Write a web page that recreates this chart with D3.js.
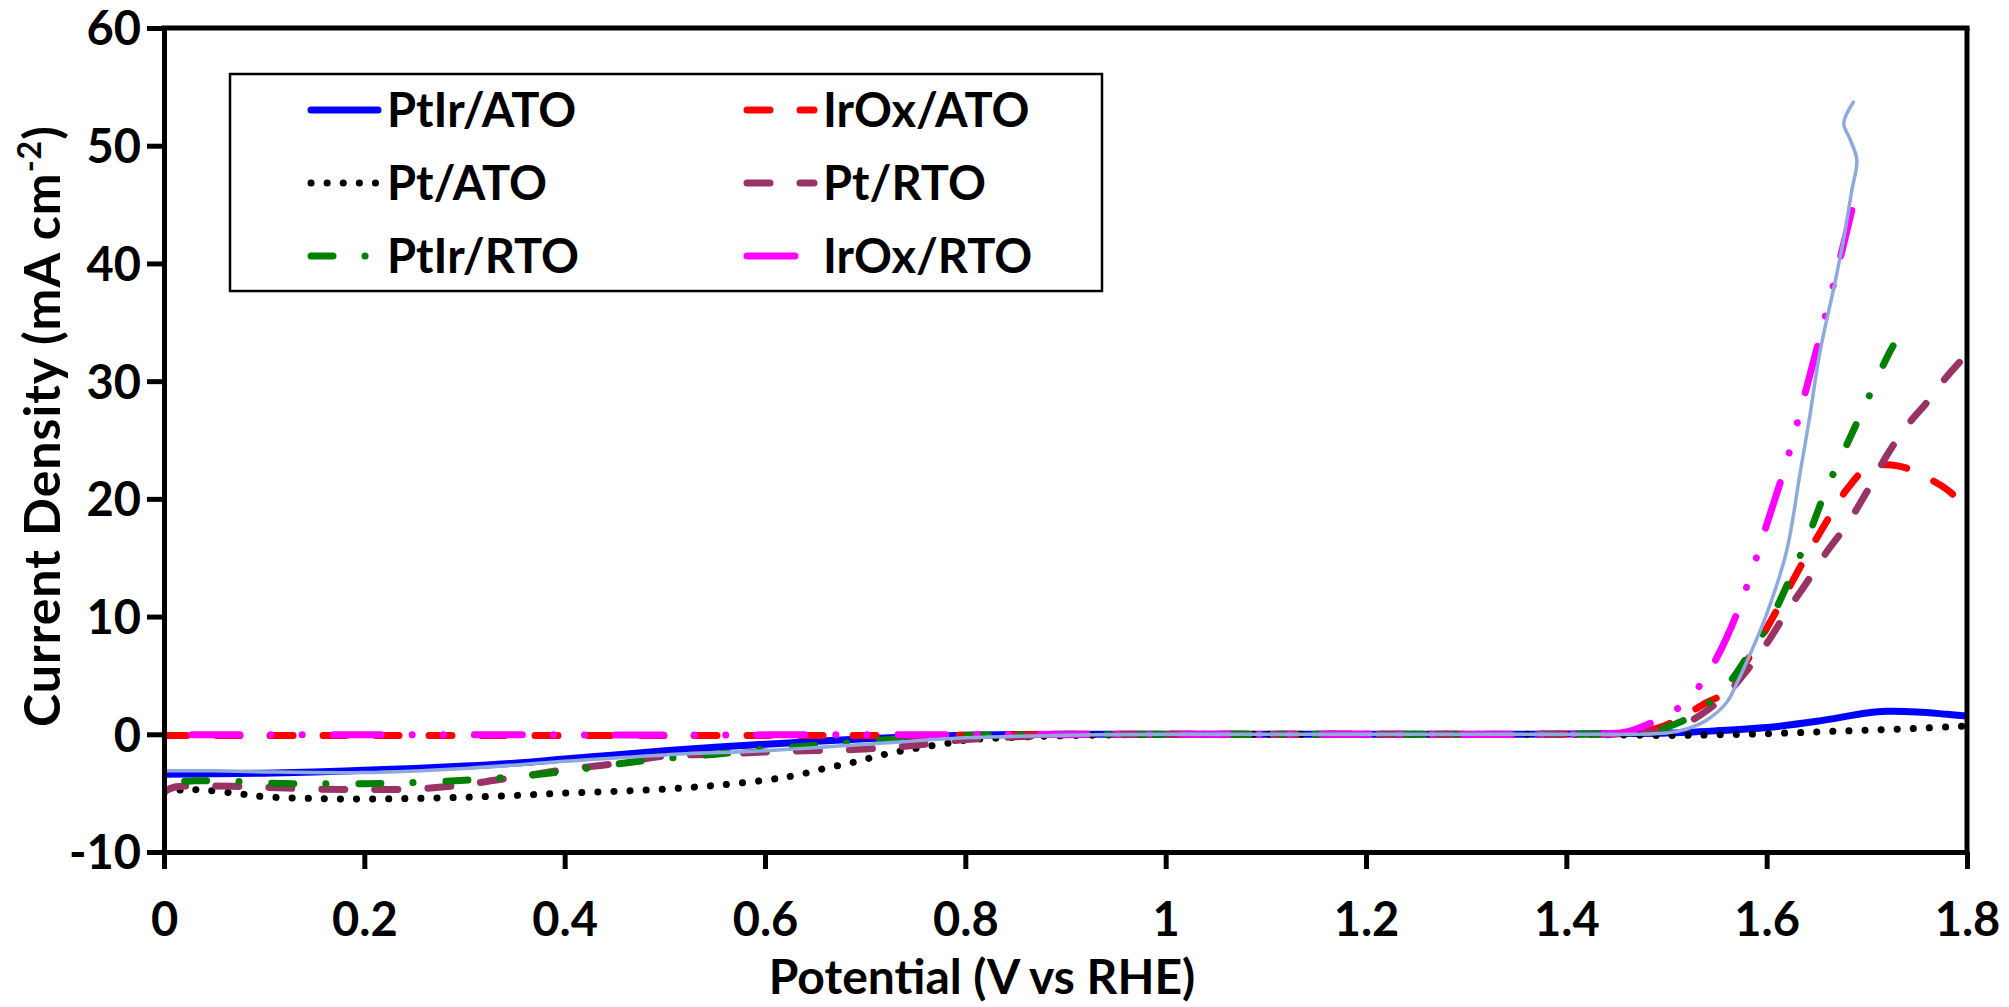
<!DOCTYPE html>
<html>
<head>
<meta charset="utf-8">
<script src="https://cdn.jsdelivr.net/npm/d3@7"></script>
<style>
  html, body { margin: 0; padding: 0; background: #fff; }
  svg { display: block; }
  text { font-family: Lato, "Open Sans", sans-serif; font-weight: 700; fill: #000; }
</style>
</head>
<body>
<svg id="chart" width="2009" height="1007"></svg>
<script>
// Linear sweep voltammetry: current density vs potential for the catalyst/support pairs

const xTicks = [0, 0.2, 0.4, 0.6, 0.8, 1.0, 1.2, 1.4, 1.6, 1.8];
const xTickLabels = ["0", "0.2", "0.4", "0.6", "0.8", "1", "1.2", "1.4", "1.6", "1.8"];
const yTicks = [-10, 0, 10, 20, 30, 40, 50, 60];
const yTickLabels = ["-10", "0", "10", "20", "30", "40", "50", "60"];

// PtIr/ATO
const ptirAtoV = [0, 0.05, 0.1, 0.15, 0.2, 0.25, 0.3, 0.35, 0.4, 0.45, 0.5, 0.55, 0.6, 0.65, 0.7, 0.75, 0.8, 0.85, 0.9, 1.0, 1.1, 1.2, 1.3, 1.4, 1.45, 1.5, 1.55, 1.6, 1.65, 1.7, 1.72, 1.75, 1.78, 1.8];
const ptirAtoJ = [-3.4, -3.35, -3.3, -3.2, -3.05, -2.9, -2.7, -2.45, -2.1, -1.75, -1.4, -1.1, -0.85, -0.6, -0.37, -0.2, -0.08, -0.02, 0, 0, 0, 0, 0, 0.02, 0.05, 0.1, 0.3, 0.57, 1.1, 1.8, 1.95, 1.9, 1.7, 1.55];

// Pt/ATO
const ptAtoV = [0, 0.02, 0.04, 0.07, 0.1, 0.15, 0.2, 0.25, 0.3, 0.35, 0.4, 0.45, 0.5, 0.55, 0.6, 0.63, 0.66, 0.69, 0.72, 0.75, 0.78, 0.8, 0.83, 0.86, 0.9, 0.95, 1.0, 1.2, 1.4, 1.5, 1.55, 1.6, 1.65, 1.7, 1.75, 1.8];
const ptAtoJ = [-5.0, -4.7, -4.75, -5.0, -5.3, -5.45, -5.5, -5.45, -5.35, -5.2, -5.0, -4.85, -4.65, -4.35, -3.9, -3.5, -2.9, -2.35, -1.7, -1.2, -0.8, -0.5, -0.33, -0.22, -0.12, -0.05, 0, 0, 0, -0.1, -0.05, 0.05, 0.2, 0.35, 0.5, 0.7];

// PtIr/RTO
const ptirRtoV = [0, 0.01, 0.03, 0.07, 0.1, 0.15, 0.2, 0.25, 0.3, 0.35, 0.4, 0.45, 0.5, 0.55, 0.6, 0.65, 0.7, 0.75, 0.8, 0.85, 0.9, 1.0, 1.2, 1.4, 1.45, 1.48, 1.5, 1.52, 1.54, 1.56, 1.58, 1.6, 1.62, 1.64, 1.66, 1.68, 1.7, 1.72, 1.73, 1.741];
const ptirRtoJ = [-4.5, -4.1, -3.95, -4.0, -4.15, -4.2, -4.2, -4.1, -3.9, -3.6, -3.15, -2.55, -2.05, -1.7, -1.25, -0.95, -0.6, -0.3, -0.12, -0.03, 0, 0, 0, 0, 0.05, 0.2, 0.6, 1.3, 2.5, 4.1, 6.5, 9.1, 12.6, 16.5, 20.9, 24.6, 28.3, 32.0, 33.6, 35.4];

// IrOx/ATO
const irAtoV = [0, 0.2, 0.4, 0.6, 0.8, 0.9, 1.2, 1.4, 1.45, 1.48, 1.5, 1.52, 1.54, 1.56, 1.58, 1.6, 1.62, 1.64, 1.66, 1.68, 1.7, 1.72, 1.74, 1.76, 1.78, 1.8];
const irAtoJ = [-0.1, -0.1, -0.1, -0.1, -0.08, 0, 0, 0, 0.05, 0.3, 0.8, 1.7, 2.7, 3.6, 6.2, 9.0, 12.1, 15.2, 18.1, 20.8, 22.6, 22.9, 22.6, 21.8, 20.8, 19.2];

// Pt/RTO
const ptRtoV = [0, 0.01, 0.05, 0.1, 0.15, 0.2, 0.25, 0.28, 0.3, 0.33, 0.36, 0.4, 0.45, 0.5, 0.55, 0.6, 0.65, 0.7, 0.75, 0.8, 0.85, 0.9, 1.0, 1.2, 1.4, 1.45, 1.5, 1.52, 1.54, 1.56, 1.58, 1.6, 1.62, 1.64, 1.66, 1.68, 1.7, 1.72, 1.74, 1.76, 1.78, 1.8];
const ptRtoJ = [-4.9, -4.5, -4.4, -4.5, -4.65, -4.7, -4.65, -4.45, -4.3, -3.9, -3.55, -3.0, -2.5, -1.85, -1.7, -1.5, -1.38, -1.25, -0.93, -0.45, -0.22, -0.05, 0, 0, 0, 0.03, 0.35, 0.95, 2.0, 3.4, 5.4, 7.7, 10.4, 12.9, 15.5, 17.8, 20.6, 23.7, 26.2, 28.2, 30.4, 32.3];

// IrOx/RTO
const irRtoV = [0, 0.2, 0.4, 0.6, 0.8, 1.0, 1.2, 1.4, 1.44, 1.46, 1.48, 1.5, 1.52, 1.54, 1.56, 1.58, 1.6, 1.62, 1.64, 1.66, 1.675, 1.685];
const irRtoJ = [-0.05, -0.05, -0.05, -0.05, -0.03, 0, 0, 0, 0.05, 0.2, 0.8, 1.6, 2.8, 5.0, 8.2, 12.5, 17.8, 23.2, 29.5, 36.0, 41.0, 44.5];

// Additional unlabelled trace (thin light blue)
const extraV = [0, 0.05, 0.1, 0.2, 0.3, 0.4, 0.5, 0.6, 0.7, 0.8, 0.9, 1.0, 1.2, 1.4, 1.5, 1.52, 1.54, 1.56, 1.57, 1.585, 1.6, 1.62, 1.633, 1.643, 1.653, 1.668, 1.676, 1.685, 1.69, 1.683, 1.677, 1.6865];
const extraJ = [-3.1, -3.1, -3.2, -3.25, -2.9, -2.3, -1.75, -1.4, -0.85, -0.3, -0.08, 0, 0, 0, 0.1, 0.45, 1.2, 2.7, 4.3, 7.1, 10.2, 15.6, 22.0, 27.0, 32.4, 38.3, 41.7, 46.2, 48.8, 50.6, 51.9, 53.7];

const margin = { left: 164, right: 42, top: 28, bottom: 155 };
const W = 2009, H = 1007;
const plotW = W - margin.left - margin.right;
const plotH = H - margin.top - margin.bottom;

const x = d3.scaleLinear().domain([0, 1.8]).range([0, plotW]);
const y = d3.scaleLinear().domain([-10, 60]).range([plotH, 0]);

const zip = (vs, js) => vs.map((v, i) => [v, js[i]]);

// endAt: position inside the dash period where the curve should stop (so the trace ends on a mark)
const series = [
  { name: "PtIr/ATO", pts: zip(ptirAtoV, ptirAtoJ), color: "#0000ff", width: 7, dash: null },
  { name: "IrOx/ATO", pts: zip(irAtoV, irAtoJ), color: "#ff0000", width: 7, dash: [23, 30] },
  { name: "Pt/ATO", pts: zip(ptAtoV, ptAtoJ), color: "#000000", width: 7, dash: [0.1, 16] },
  { name: "Pt/RTO", pts: zip(ptRtoV, ptRtoJ), color: "#993366", width: 7, dash: [23, 30] },
  { name: "PtIr/RTO", pts: zip(ptirRtoV, ptirRtoJ), color: "#008000", width: 7, dash: [22, 32, 0.1, 33], endAt: 54.05 },
  { name: "IrOx/RTO", pts: zip(irRtoV, irRtoJ), color: "#ff00ff", width: 7, dash: [48, 31, 0.1, 31, 0.1, 31], endAt: 47 },
  { name: null, pts: zip(extraV, extraJ), color: "#8ea9db", width: 3.5, dash: null }
];

const svg = d3.select("#chart");
const g = svg.append("g").attr("transform", `translate(${margin.left},${margin.top})`);

const line = d3.line()
  .x(d => x(d[0]))
  .y(d => y(d[1]))
  .curve(d3.curveCatmullRom.alpha(0.5));

svg.append("defs").append("clipPath").attr("id", "plotClip")
  .append("rect").attr("x", 0).attr("y", -10).attr("width", plotW).attr("height", plotH + 10);

const curves = g.append("g").attr("clip-path", "url(#plotClip)");
series.forEach(s => {
  const p = curves.append("path")
    .attr("d", line(s.pts))
    .attr("fill", "none")
    .attr("stroke", s.color)
    .attr("stroke-width", s.width)
    .attr("stroke-linecap", "round")
    .attr("stroke-linejoin", "round")
    .attr("stroke-dasharray", s.dash ? s.dash.join(",") : null);
  if (s.dash && s.endAt !== undefined) {
    const period = d3.sum(s.dash);
    const len = p.node().getTotalLength();
    const off = ((s.endAt - len) % period + period) % period;
    p.attr("stroke-dashoffset", off);
  }
});

// Axes
const axisStroke = 5;
const yAxis = d3.axisLeft(y).tickValues(yTicks).tickSize(17).tickSizeOuter(0)
  .tickFormat((d, i) => yTickLabels[i]).tickPadding(6);
const xAxis = d3.axisBottom(x).tickValues(xTicks).tickSize(17).tickSizeOuter(0)
  .tickFormat((d, i) => xTickLabels[i]).tickPadding(34);

const gy = g.append("g").call(yAxis);
const gx = g.append("g").attr("transform", `translate(0,${plotH})`).call(xAxis);

[gx, gy].forEach(a => {
  a.select(".domain").attr("stroke", "#000").attr("stroke-width", axisStroke);
  a.selectAll(".tick line").attr("stroke", "#000").attr("stroke-width", axisStroke);
  a.selectAll(".tick text").attr("font-size", 47).attr("font-family", "Lato, sans-serif").attr("font-weight", 700).attr("fill", "#000");
});
gy.selectAll(".tick text").attr("dy", "0.36em");
gx.selectAll(".tick text").attr("dy", "0.71em");

// Top and right frame
g.append("line").attr("x1", -axisStroke / 2).attr("x2", plotW + axisStroke / 2).attr("y1", 0).attr("y2", 0)
  .attr("stroke", "#000").attr("stroke-width", axisStroke);
g.append("line").attr("x1", plotW).attr("x2", plotW).attr("y1", 0).attr("y2", plotH)
  .attr("stroke", "#000").attr("stroke-width", axisStroke);

// Axis titles
svg.append("text")
  .attr("x", 982).attr("y", 994)
  .attr("text-anchor", "middle")
  .attr("font-size", 48)
  .text("Potential (V vs RHE)");

const yTitle = svg.append("text")
  .attr("transform", "translate(60,426) rotate(-90)")
  .attr("text-anchor", "middle")
  .attr("font-size", 50)
  .attr("letter-spacing", 1);
yTitle.append("tspan").text("Current Density (mA cm");
yTitle.append("tspan").attr("font-size", 32).attr("dy", -19).text("-2");
yTitle.append("tspan").attr("dy", 19).text(")");

// Legend
const legend = svg.append("g");
legend.append("rect")
  .attr("x", 230).attr("y", 74).attr("width", 872).attr("height", 217)
  .attr("fill", "#fff").attr("stroke", "#000").attr("stroke-width", 2.5);

const rowsY = [110, 183, 256];
const cols = [{ x1: 311, x2: 378, tx: 387 }, { x1: 747, x2: 814, tx: 823 }];
const legendOrder = [
  ["PtIr/ATO", 0, 0], ["Pt/ATO", 0, 1], ["PtIr/RTO", 0, 2],
  ["IrOx/ATO", 1, 0], ["Pt/RTO", 1, 1], ["IrOx/RTO", 1, 2]
];
legendOrder.forEach(([name, c, r]) => {
  const s = series.find(d => d.name === name);
  const col = cols[c];
  const yy = rowsY[r];
  legend.append("line")
    .attr("x1", col.x1).attr("x2", col.x2).attr("y1", yy).attr("y2", yy)
    .attr("stroke", s.color).attr("stroke-width", s.width)
    .attr("stroke-linecap", "round")
    .attr("stroke-dasharray", s.dash ? s.dash.join(",") : null);
  legend.append("text")
    .attr("x", col.tx).attr("y", yy + 17)
    .attr("font-size", 47)
    .text(name);
});
</script>
</body>
</html>
